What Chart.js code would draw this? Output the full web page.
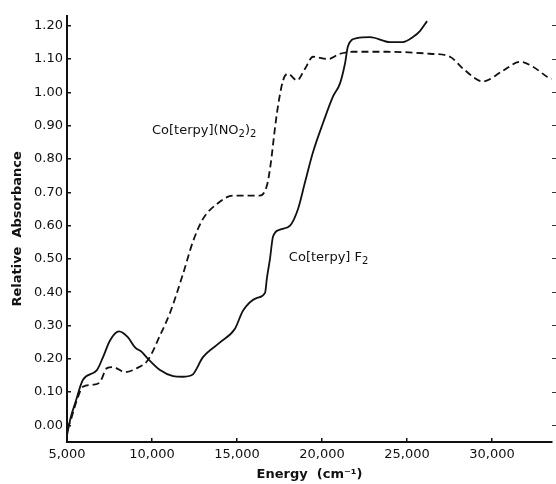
<!DOCTYPE html>
<html>
<head>
<meta charset="utf-8">
<script src="https://cdn.jsdelivr.net/npm/chart.js@4"></script>
<style>
  html, body { margin: 0; padding: 0; background: #fff; }
  #wrap { width: 556px; height: 484px; }
</style>
</head>
<body>
<div id="wrap"><canvas id="myChart" width="556" height="484"></canvas></div>
<script>
const ctx = document.getElementById('myChart');

// Co[terpy]F2 (solid)
const fluorideEnergy = [5000, 5200, 5500, 5940, 6760, 7120, 7530, 8060, 8590, 9000, 9410, 9760, 10470, 11240, 11800, 12350,
    13000, 14000, 14880, 15350, 16180, 16650, 16760, 16940, 17120, 17530, 18120, 18590, 19000, 19470, 20060,
    20650, 21060, 21350, 21530, 22060, 22820, 24000, 24760, 25350, 25760, 26180];
const fluorideAbs = [-0.03, 0.02, 0.07, 0.137, 0.166, 0.205, 0.255, 0.282, 0.264, 0.234, 0.22, 0.20, 0.166, 0.148, 0.146, 0.151,
    0.205, 0.249, 0.29, 0.344, 0.383, 0.398, 0.442, 0.50, 0.567, 0.588, 0.60, 0.65, 0.73, 0.82, 0.908,
    0.988, 1.027, 1.086, 1.139, 1.163, 1.166, 1.151, 1.151, 1.166, 1.184, 1.214];

// Co[terpy](NO2)2 (dashed)
const nitroEnergy = [5000, 5180, 5590, 5940, 6530, 6940, 7350, 7700, 8410, 9120, 9760, 10470, 11060, 11820, 12410,
    13000, 13820, 14760, 15760, 16350, 16760, 16940, 17350, 17710, 18000, 18530, 19000, 19470, 20350,
    21060, 21820, 23820, 26350, 27530, 28300, 29470, 30650, 31650, 32410, 33240, 33500];
const nitroAbs = [-0.01, 0.01, 0.077, 0.116, 0.122, 0.13, 0.172, 0.175, 0.16, 0.172, 0.196, 0.27, 0.338, 0.454, 0.552,
    0.62, 0.665, 0.69, 0.69, 0.69, 0.72, 0.77, 0.938, 1.036, 1.056, 1.036, 1.071, 1.107, 1.10,
    1.116, 1.122, 1.122, 1.116, 1.107, 1.071, 1.033, 1.065, 1.092, 1.077, 1.047, 1.04];

const xTicks = [5000, 10000, 15000, 20000, 25000, 30000];
const yTicks = [0, 0.1, 0.2, 0.3, 0.4, 0.5, 0.6, 0.7, 0.8, 0.9, 1.0, 1.1, 1.2];

const FONT = '"DejaVu Sans", sans-serif';

function toPoints(xs, ys) {
    return xs.map(function (x, i) { return { x: x, y: ys[i] }; });
}

// draws text pieces, some of them as subscripts
function drawParts(c, parts, x, y) {
    for (var i = 0; i < parts.length; i++) {
        var p = parts[i];
        c.font = p.sub ? '10px ' + FONT : '13px ' + FONT;
        c.fillText(p.t, x, p.sub ? y + 4 : y);
        x += c.measureText(p.t).width;
    }
}

const labelPlugin = {
    id: 'curveLabels',
    afterDatasetsDraw(chart) {
        const c = chart.ctx;
        const xs = chart.scales.x, ys = chart.scales.y;
        c.save();
        c.fillStyle = '#111';
        c.textBaseline = 'middle';
        drawParts(c, [{ t: 'Co[terpy](NO' }, { t: '2', sub: true }, { t: ')' }, { t: '2', sub: true }],
            xs.getPixelForValue(10000), ys.getPixelForValue(0.885));
        drawParts(c, [{ t: 'Co[terpy] F' }, { t: '2', sub: true }],
            xs.getPixelForValue(18050), ys.getPixelForValue(0.505));
        c.restore();
    }
};

new Chart(ctx, {
    type: 'line',
    data: {
        datasets: [{
            label: 'Co[terpy]F2',
            data: toPoints(fluorideEnergy, fluorideAbs),
            borderColor: '#111',
            borderWidth: 1.8,
            pointRadius: 0,
            fill: false,
            cubicInterpolationMode: 'monotone'
        }, {
            label: 'Co[terpy](NO2)2',
            data: toPoints(nitroEnergy, nitroAbs),
            borderColor: '#111',
            borderWidth: 1.8,
            borderDash: [7, 4],
            pointRadius: 0,
            fill: false,
            cubicInterpolationMode: 'monotone'
        }]
    },
    options: {
        responsive: false,
        animation: false,
        layout: { padding: { top: 12, left: 0, right: 0, bottom: 0 } },
        plugins: {
            legend: { display: false },
            tooltip: { enabled: false }
        },
        scales: {
            x: {
                type: 'linear',
                min: 5000,
                max: 33530,
                afterBuildTicks: function (scale) {
                    scale.ticks = xTicks.map(function (v) { return { value: v }; });
                },
                afterFit: function (scale) { scale.height = 42; },
                grid: { display: true, drawOnChartArea: false, drawTicks: true, tickLength: -4, color: '#111', lineWidth: 1.5 },
                border: { display: true, color: '#111', width: 2 },
                ticks: {
                    color: '#111',
                    font: { family: FONT, size: 13 },
                    padding: 9,
                    maxRotation: 0,
                    callback: function (v) { return v.toLocaleString('en-US'); }
                },
                title: {
                    display: true,
                    text: 'Energy  (cm⁻¹)',
                    color: '#111',
                    font: { family: FONT, size: 13, weight: 'bold' },
                    padding: { top: 0, bottom: 2 }
                }
            },
            y: {
                min: -0.05,
                max: 1.23,
                afterBuildTicks: function (scale) {
                    scale.ticks = yTicks.map(function (v) { return { value: v }; });
                },
                afterFit: function (scale) { scale.width = 67; },
                grid: { display: true, drawOnChartArea: false, drawTicks: true, tickLength: -4, color: '#111', lineWidth: 1.5 },
                border: { display: true, color: '#111', width: 2 },
                ticks: {
                    color: '#111',
                    font: { family: FONT, size: 13 },
                    padding: 8,
                    callback: function (v) { return v.toFixed(2); }
                },
                title: {
                    display: true,
                    text: 'Relative  Absorbance',
                    color: '#111',
                    font: { family: FONT, size: 13, weight: 'bold' },
                    padding: { top: 10, bottom: 0 }
                }
            },
            y2: {
                position: 'right',
                min: -0.05,
                max: 1.23,
                afterBuildTicks: function (scale) {
                    scale.ticks = yTicks.map(function (v) { return { value: v }; });
                },
                afterFit: function (scale) { scale.width = 4; },
                grid: { display: true, drawOnChartArea: false, drawTicks: true, tickLength: 4, color: '#333', lineWidth: 1 },
                border: { display: false },
                ticks: { display: false }
            }
        }
    },
    plugins: [labelPlugin]
});
</script>
</body>
</html>
